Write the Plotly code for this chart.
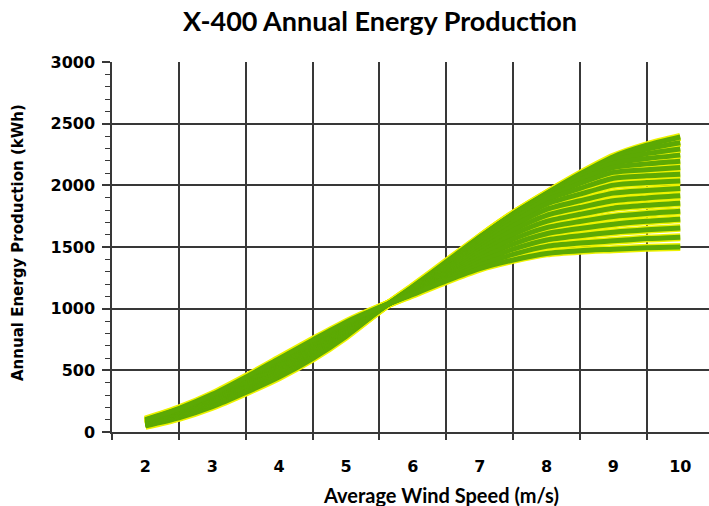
import plotly.graph_objects as go

# Average wind speed (m/s)
wind_speed = [2, 2.5, 3, 3.5, 4, 4.5, 5, 5.5, 6, 6.5, 7, 7.5, 8, 8.5, 9, 9.5, 10]

# Annual energy production curves (kWh), one per turbine setting
aep_c01 = [100, 190, 305, 445, 595, 745, 890, 1010, 1115, 1225, 1325, 1395, 1448, 1470, 1482, 1494, 1500]
aep_c02 = [97, 185, 298, 437, 585, 735, 882, 1008, 1119, 1236, 1352, 1440, 1505, 1532, 1550, 1568, 1580]
aep_c03 = [93, 180, 292, 428, 575, 725, 875, 1007, 1124, 1246, 1378, 1482, 1557, 1592, 1620, 1640, 1655]
aep_c04 = [90, 175, 285, 420, 565, 715, 867, 1005, 1128, 1257, 1403, 1523, 1607, 1650, 1685, 1708, 1725]
aep_c05 = [87, 170, 278, 412, 555, 705, 859, 1003, 1132, 1267, 1428, 1563, 1657, 1707, 1748, 1772, 1790]
aep_c06 = [83, 165, 272, 403, 545, 695, 852, 1002, 1137, 1277, 1452, 1600, 1707, 1765, 1815, 1838, 1855]
aep_c07 = [80, 160, 265, 395, 535, 685, 844, 1000, 1141, 1288, 1475, 1636, 1757, 1820, 1875, 1898, 1915]
aep_c08 = [77, 155, 258, 387, 525, 675, 836, 998, 1145, 1298, 1497, 1670, 1805, 1875, 1937, 1958, 1975]
aep_c09 = [73, 150, 252, 378, 515, 665, 829, 997, 1150, 1308, 1517, 1700, 1848, 1928, 2002, 2022, 2035]
aep_c10 = [70, 145, 245, 370, 505, 655, 821, 995, 1154, 1318, 1535, 1724, 1882, 1975, 2058, 2077, 2090]
aep_c11 = [67, 140, 238, 362, 495, 645, 813, 993, 1158, 1328, 1550, 1742, 1903, 2015, 2105, 2127, 2145]
aep_c12 = [63, 135, 232, 353, 485, 635, 806, 992, 1163, 1338, 1562, 1754, 1916, 2045, 2145, 2174, 2195]
aep_c13 = [60, 130, 225, 345, 475, 625, 798, 990, 1167, 1349, 1570, 1761, 1924, 2065, 2178, 2217, 2245]
aep_c14 = [57, 125, 218, 337, 465, 615, 790, 988, 1171, 1359, 1575, 1765, 1929, 2078, 2203, 2257, 2295]
aep_c15 = [53, 120, 212, 328, 455, 605, 783, 987, 1176, 1370, 1578, 1767, 1932, 2086, 2220, 2294, 2345]
aep_c16 = [50, 115, 205, 320, 445, 595, 775, 985, 1180, 1380, 1580, 1769, 1935, 2092, 2232, 2325, 2392]

curves = [aep_c01, aep_c02, aep_c03, aep_c04, aep_c05, aep_c06, aep_c07, aep_c08,
          aep_c09, aep_c10, aep_c11, aep_c12, aep_c13, aep_c14, aep_c15, aep_c16]

x_tick_vals = [2, 3, 4, 5, 6, 7, 8, 9, 10]
y_tick_vals = [0, 500, 1000, 1500, 2000, 2500, 3000]

GREEN = "#5CA904"
YELLOW = "#EEF200"
GRID = "#383838"

fig = go.Figure()
# yellow halos first, then green cores on top
for ys in reversed(curves):
    fig.add_trace(go.Scatter(x=wind_speed, y=ys, mode="lines",
                             line=dict(color=YELLOW, width=8, shape="spline", smoothing=0.7),
                             hoverinfo="skip", showlegend=False))
for ys in reversed(curves):
    fig.add_trace(go.Scatter(x=wind_speed, y=ys, mode="lines",
                             line=dict(color=GREEN, width=5, shape="spline", smoothing=0.7),
                             showlegend=False))

fig.update_layout(
    width=709, height=506,
    margin=dict(l=112, r=0, t=62, b=74, autoexpand=False),
    paper_bgcolor="white", plot_bgcolor="white",
    title=dict(text="<b>X-400 Annual Energy Production</b>", x=380 / 709, xanchor="center",
               y=1 - 22 / 506, yanchor="middle", xref="container", yref="container",
               font=dict(family="Lato", size=27, color="black")),
    annotations=[
        dict(text="<b>Average Wind Speed (m/s)</b>", xref="paper", yref="paper",
             x=(441 - 112) / (709 - 112), y=-(495 - 432) / (432 - 62), xanchor="center", yanchor="middle",
             showarrow=False, font=dict(family="Lato", size=20, color="black")),
        dict(text="<b>Annual Energy Production (kWh)</b>", xref="paper", yref="paper",
             x=-(112 - 18) / (709 - 112), y=(432 - 243) / (432 - 62), xanchor="center", yanchor="middle",
             textangle=-90, showarrow=False,
             font=dict(family="DejaVu Sans", size=15, color="black")),
    ],
)

fig.update_xaxes(
    range=[1.5, 10.43], tickmode="array", tickvals=x_tick_vals,
    ticks="outside", ticklen=1, tickcolor="rgba(0,0,0,0)", ticklabelstandoff=18,
    showgrid=False, zeroline=False,
    showline=True, linecolor=GRID, linewidth=1.5,
    tickfont=dict(family="DejaVu Sans", size=16, color="black", weight="bold"),
    minor=dict(tick0=1.5, dtick=1, ticks="outside", ticklen=6, tickcolor=GRID, tickwidth=1.5,
               showgrid=True, gridcolor=GRID, gridwidth=1.5),
)
fig.update_yaxes(
    range=[0, 3000], tickmode="array", tickvals=y_tick_vals,
    ticks="outside", ticklen=8, tickcolor=GRID, tickwidth=1.5, ticklabelstandoff=4,
    showgrid=True, gridcolor=GRID, gridwidth=1.5, zeroline=False,
    showline=True, linecolor=GRID, linewidth=1.5,
    tickfont=dict(family="DejaVu Sans", size=16, color="black", weight="bold"),
    minor=dict(dtick=100, ticks="outside", ticklen=5, tickcolor=GRID, tickwidth=1, showgrid=False),
)

fig.write_html("out.html", config={"displayModeBar": False},
               post_script="document.body.style.margin='0';")
